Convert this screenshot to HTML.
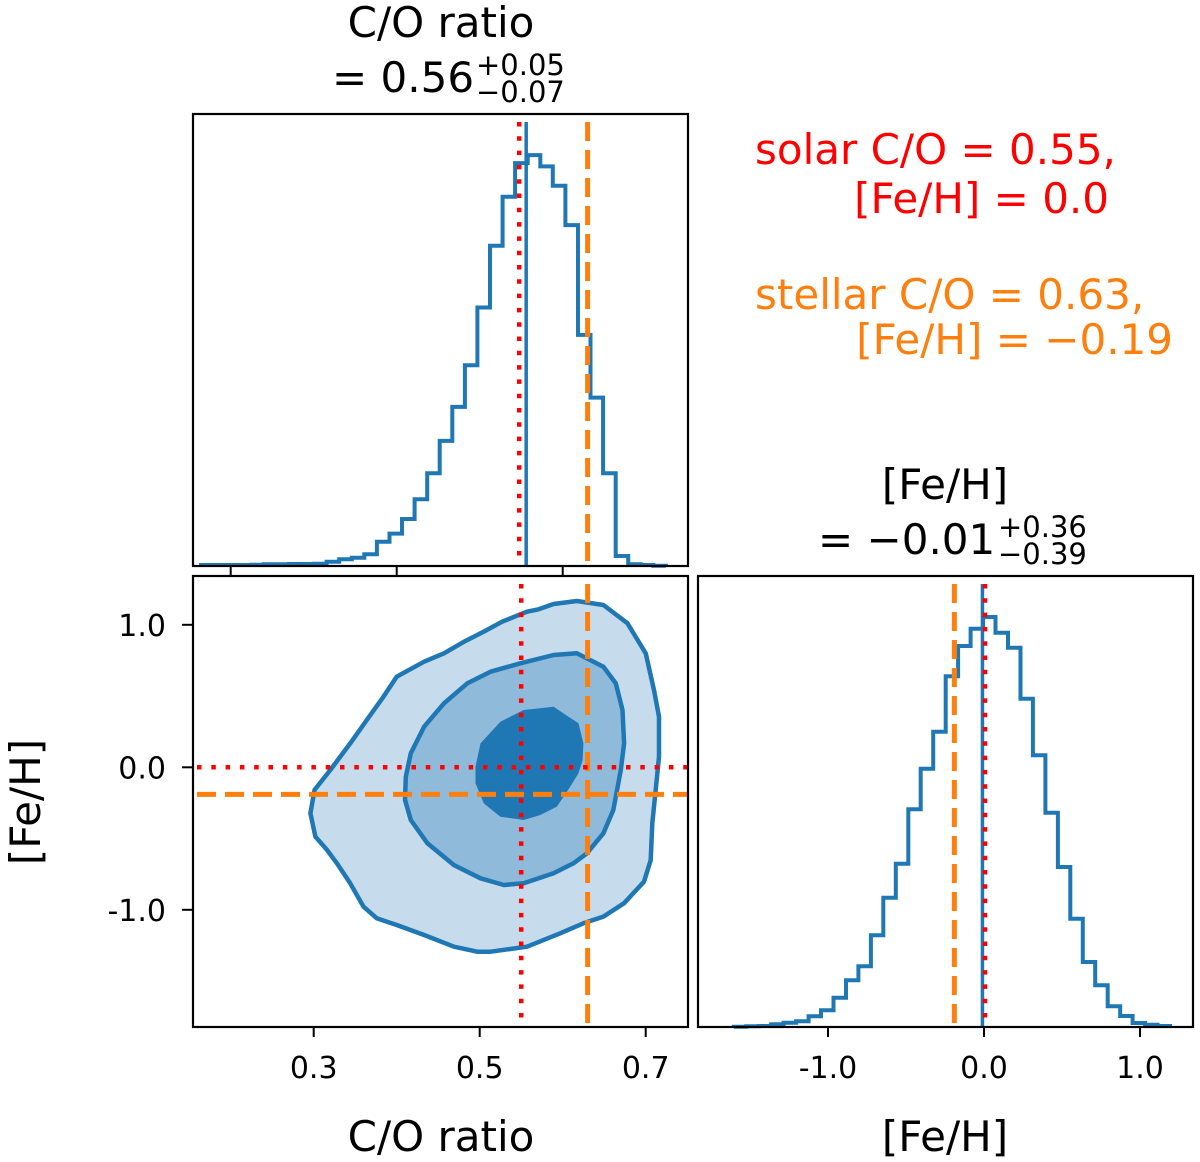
<!DOCTYPE html>
<html><head><meta charset="utf-8"><style>
html,body{margin:0;padding:0;background:#fff}
svg{display:block}
text{font-family:"DejaVu Sans","Liberation Sans",sans-serif}
</style></head><body>
<svg id="chart" width="1200" height="1162" viewBox="0 0 1200 1162" xmlns="http://www.w3.org/2000/svg">
<g id="g-contours"></g>
<g id="g-hists"></g>
<g id="g-lines"></g>
<g id="g-axes"></g>

<text x="441" y="37" font-size="42" text-anchor="middle">C/O ratio</text>
<text x="332" y="92" font-size="42">= 0.56</text>
<text x="476" y="75" font-size="29">+0.05</text>
<text x="476" y="102" font-size="29">−0.07</text>

<text x="945" y="499" font-size="42" text-anchor="middle">[Fe/H]</text>
<text x="818" y="554" font-size="42">= −0.01</text>
<text x="998" y="537" font-size="29">+0.36</text>
<text x="998" y="564" font-size="29">−0.39</text>

<text x="755" y="164" font-size="42" fill="#ff0000">solar C/O = 0.55,</text>
<text x="1109" y="213" font-size="42" fill="#ff0000" text-anchor="end">[Fe/H] = 0.0</text>
<text x="755" y="309" font-size="42" fill="#ff7f0e">stellar C/O = 0.63,</text>
<text x="1173" y="354" font-size="42" fill="#ff7f0e" text-anchor="end">[Fe/H] = −0.19</text>

<text x="441" y="1151" font-size="42" text-anchor="middle">C/O ratio</text>
<text x="945" y="1151" font-size="42" text-anchor="middle">[Fe/H]</text>
<text x="0" y="0" font-size="42" text-anchor="middle" transform="translate(40,802) rotate(-90)">[Fe/H]</text>
</svg>
<script>
// ---- data ----
const coHistStart = 0.1642;
const coHistWidth = 0.01514;
const coHistCounts = [3,3,3,3,4,5,5,6,6,7,13,20,25,35,73,97,141,200,278,375,477,602,775,960,1107,1208,1232,1198,1140,1022,693,505,278,30,5,3,1];
const fehHistStart = -1.604;
const fehHistWidth = 0.0799;
const fehHistCounts = [1,2,3,8,13,17,32,50,88,140,182,275,388,490,653,775,886,1052,1143,1195,1230,1183,1138,985,815,643,480,325,195,125,62,33,12,7,3];
const contourOuter = [[0.617,1.167],[0.649,1.139],[0.678,1.011],[0.700,0.800],[0.710,0.542],[0.716,0.355],[0.716,0.074],[0.712,-0.159],[0.708,-0.393],[0.706,-0.651],[0.698,-0.803],[0.674,-0.954],[0.649,-1.048],[0.625,-1.095],[0.597,-1.165],[0.557,-1.259],[0.513,-1.294],[0.497,-1.294],[0.469,-1.259],[0.433,-1.177],[0.400,-1.107],[0.376,-1.060],[0.360,-0.978],[0.344,-0.814],[0.328,-0.674],[0.316,-0.580],[0.302,-0.487],[0.296,-0.323],[0.301,-0.159],[0.320,-0.019],[0.344,0.168],[0.364,0.332],[0.384,0.495],[0.400,0.636],[0.433,0.741],[0.457,0.800],[0.481,0.881],[0.505,0.952],[0.527,1.022],[0.557,1.092],[0.571,1.109],[0.589,1.146]];
const contourMiddle = [[0.617,0.800],[0.649,0.706],[0.664,0.589],[0.672,0.402],[0.674,0.168],[0.670,-0.019],[0.661,-0.300],[0.649,-0.463],[0.629,-0.604],[0.613,-0.674],[0.589,-0.744],[0.553,-0.814],[0.529,-0.826],[0.501,-0.779],[0.469,-0.686],[0.437,-0.533],[0.417,-0.370],[0.410,-0.229],[0.411,-0.066],[0.417,0.098],[0.433,0.285],[0.457,0.449],[0.485,0.589],[0.513,0.671],[0.549,0.730],[0.589,0.788]];
const contourInner = [[0.589,0.425],[0.607,0.355],[0.619,0.309],[0.625,0.168],[0.624,0.051],[0.619,-0.042],[0.609,-0.136],[0.593,-0.276],[0.573,-0.335],[0.553,-0.370],[0.525,-0.347],[0.505,-0.253],[0.495,-0.112],[0.495,0.004],[0.501,0.168],[0.525,0.320],[0.553,0.402]];
const solarCO = 0.55, solarFeH = 0.0, stellarCO = 0.63, stellarFeH = -0.19;
const medianCO = 0.556, medianFeH = -0.01;
const coTopTicks = [0.2, 0.4, 0.6];
const coTicks = [0.3, 0.5, 0.7];
const coTickLabels = ["0.3", "0.5", "0.7"];
const fehTicks = [-1.0, 0.0, 1.0];
const fehTickLabels = ["-1.0", "0.0", "1.0"];

// ---- axes ----
const NS = "http://www.w3.org/2000/svg";
const P1 = {x0:193, x1:688, y0:114, y1:566};
const P2 = {x0:193, x1:688, y0:576, y1:1027};
const P3 = {x0:698, x1:1193, y0:576, y1:1027};
const xCO = v => 396.7 + (v - 0.4) * 830;
const yFeH = v => 767.3 - v * 142.5;
const xFeH = v => 984 + v * 156;
const coMax = Math.max(...coHistCounts) * 1.1;
const fehMax = Math.max(...fehHistCounts) * 1.1;
const yCoHist = c => P1.y1 - c / coMax * (P1.y1 - P1.y0);
const yFehHist = c => P3.y1 - c / fehMax * (P3.y1 - P3.y0);

function mk(tag, attrs, parent) {
  const e = document.createElementNS(NS, tag);
  for (const k in attrs) e.setAttribute(k, attrs[k]);
  parent.appendChild(e);
  return e;
}
const gC = document.getElementById('g-contours');
const gH = document.getElementById('g-hists');
const gL = document.getElementById('g-lines');
const gA = document.getElementById('g-axes');

const defs = mk('defs', {}, document.getElementById('chart'));
const cp = mk('clipPath', {id:'clip2d'}, defs);
mk('rect', {x:P2.x0, y:P2.y0, width:P2.x1-P2.x0, height:P2.y1-P2.y0}, cp);
gC.setAttribute('clip-path', 'url(#clip2d)');

function contourPath(pts) {
  return 'M' + pts.map(p => xCO(p[0]).toFixed(1) + ',' + yFeH(p[1]).toFixed(1)).join('L') + 'Z';
}
const levels = [[contourOuter,'#c6dcec','contour-outer'],[contourMiddle,'#8fbad9','contour-middle'],[contourInner,'#1f77b4','contour-inner']];
levels.forEach(l => {
  const f = mk('path', {d: contourPath(l[0]), fill: l[1], stroke:'none'}, gC);
  
  
});
levels.slice(0,2).forEach(l => {
  const s = mk('path', {d: contourPath(l[0]), fill:'none', stroke:'#1f77b4', 'stroke-width':4.5, 'stroke-linejoin':'round'}, gC);
  
  
});

function histPath(start, width, counts, xf, yf, base) {
  let d = 'M' + xf(start).toFixed(1) + ',' + base;
  counts.forEach((c, i) => {
    const a = xf(start + i * width), b = xf(start + (i + 1) * width), y = yf(c);
    d += 'L' + a.toFixed(1) + ',' + y.toFixed(1) + 'L' + b.toFixed(1) + ',' + y.toFixed(1);
  });
  d += 'L' + xf(start + counts.length * width).toFixed(1) + ',' + base;
  return d;
}
const h1 = mk('path', {d: histPath(coHistStart, coHistWidth, coHistCounts, xCO, yCoHist, P1.y1), fill:'none', stroke:'#1f77b4', 'stroke-width':4}, gH);


const h2 = mk('path', {d: histPath(fehHistStart, fehHistWidth, fehHistCounts, xFeH, yFehHist, P3.y1), fill:'none', stroke:'#1f77b4', 'stroke-width':4}, gH);



function vline(x, p, style, name) {
  const e = mk('line', Object.assign({x1:x, x2:x, y1:p.y0+8, y2:p.y1}, style), gL);
  
  
}
function hline(y, p, style, name) {
  const e = mk('line', Object.assign({x1:p.x0+4, x2:p.x1, y1:y, y2:y}, style), gL);
  
  
}
const blue = {stroke:'#1f77b4', 'stroke-width':3.5};
const red = {stroke:'#ff0000', 'stroke-width':4.5, 'stroke-dasharray':'4.5,9.8'};
const orange = {stroke:'#ff7f0e', 'stroke-width':5, 'stroke-dasharray':'19,9'};
vline(xCO(medianCO), P1, blue, 'co-median-line');
vline(xCO(solarCO)-2, P1, red, 'co-solar-line-top');
vline(xCO(stellarCO), P1, orange, 'co-stellar-line-top');
vline(xFeH(medianFeH), P3, blue, 'feh-median-line');
vline(xFeH(solarFeH)+1, P3, red, 'feh-solar-line-right');
vline(xFeH(stellarFeH), P3, orange, 'feh-stellar-line-right');
vline(xCO(solarCO), P2, red, 'co-solar-line-2d');
vline(xCO(stellarCO), P2, orange, 'co-stellar-line-2d');
hline(yFeH(solarFeH), P2, red, 'feh-solar-line-2d');
hline(yFeH(stellarFeH), P2, orange, 'feh-stellar-line-2d');

[[P1,'top-histogram-frame'],[P2,'joint-panel-frame'],[P3,'feh-histogram-frame']].forEach(q => {
  const p = q[0];
  const r = mk('rect', {x:p.x0, y:p.y0, width:p.x1-p.x0, height:p.y1-p.y0, fill:'none', stroke:'#000', 'stroke-width':2.2}, gA);
  
  
});
coTopTicks.forEach(v => {
  const t = mk('line', {x1:xCO(v), x2:xCO(v), y1:P1.y1, y2:P1.y1+10, stroke:'#000', 'stroke-width':2}, gA);
  
  
});
coTicks.forEach((v, i) => {
  const t = mk('line', {x1:xCO(v), x2:xCO(v), y1:P2.y1, y2:P2.y1+10, stroke:'#000', 'stroke-width':2}, gA);
  
  
  const l = mk('text', {x:xCO(v), y:1078, 'font-size':30, 'text-anchor':'middle'}, gA);
  l.textContent = coTickLabels[i];
  
  
});
fehTicks.forEach((v, i) => {
  const t = mk('line', {x1:P2.x0-11, x2:P2.x0, y1:yFeH(v), y2:yFeH(v), stroke:'#000', 'stroke-width':2}, gA);
  
  
  const l = mk('text', {x:166, y:yFeH(v)+11, 'font-size':30, 'text-anchor':'end'}, gA);
  l.textContent = fehTickLabels[i];
  
  
  const t2 = mk('line', {x1:xFeH(v), x2:xFeH(v), y1:P3.y1, y2:P3.y1+10, stroke:'#000', 'stroke-width':2}, gA);
  
  
  const l2 = mk('text', {x:xFeH(v), y:1078, 'font-size':30, 'text-anchor':'middle'}, gA);
  l2.textContent = fehTickLabels[i];
  
  
});
</script>
</body></html>
